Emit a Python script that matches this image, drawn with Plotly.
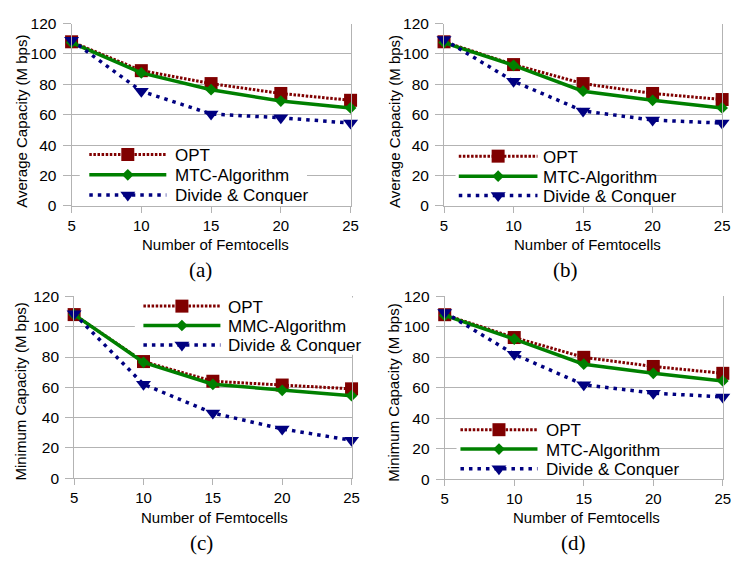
import plotly.graph_objects as go

W, H = 738, 567

# ---- data ----
femtocells = [5, 10, 15, 20, 25]
y_ticks = [0, 20, 40, 60, 80, 100, 120]

# (a) average capacity
a_opt = [108, 89, 80.5, 74, 69.5]
a_mtc = [107.5, 87.5, 76.5, 69, 64.5]
a_dc = [109, 75.5, 60.5, 58, 54.5]

# (b) average capacity
b_opt = [108, 93, 80.5, 74, 70]
b_mtc = [107.5, 92.5, 75.5, 69.5, 64.5]
b_dc = [109.5, 82, 62.5, 56.5, 54.5]

# (c) minimum capacity
c_opt = [108, 77, 64, 61.5, 59]
c_mmc = [108, 76.5, 62, 58, 54.5]
c_dc = [108.5, 62, 43, 32.5, 25]

# (d) minimum capacity
d_opt = [108, 93, 80, 74, 69.5]
d_mtc = [107.5, 92, 75.5, 69.5, 64.5]
d_dc = [109.5, 82, 62, 56.5, 54]

x_title = "Number of Femtocells"
avg_title = "Average Capacity (M bps)"
min_title = "Minimum Capacity (M bps)"

# ---- styles ----
SANS = "Liberation Sans, Arial, sans-serif"
SERIF = "Liberation Serif, Times New Roman, serif"
GRID = "#b3b3b3"
STYLES = [
    dict(color="#800000", dash="2.5px,1.6px", width=3, symbol="square", size=13),
    dict(color="#008000", dash="solid", width=3.5, symbol="diamond", size=9),
    dict(color="#000080", dash="3.5px,5px", width=3.5, symbol="triangle-down", size=13),
]


def px(x):
    return x / W


def py(y):
    return 1 - y / H


panels = [
    dict(ax="", box=(68.7, 15, 352.3, 203),
         series=[("OPT", a_opt), ("MTC-Algorithm", a_mtc), ("Divide & Conquer", a_dc)],
         ytitle=avg_title, ytitle_pos=(17.5, 116), xtitle_pos=(215, 242.5),
         caption="(a)", caption_pos=(200, 269.5),
         leg_box=(77, 142.5, 308, 201.5), leg_line=(86.7, 165), leg_text=171.7,
         leg_rows=(150, 171, 191.7)),
    dict(ax="2", box=(447.3, 15, 730, 203),
         series=[("OPT", b_opt), ("MTC-Algorithm", b_mtc), ("Divide & Conquer", b_dc)],
         ytitle=avg_title, ytitle_pos=(396.5, 116.5), xtitle_pos=(593, 242.5),
         caption="(b)", caption_pos=(570.7, 269.5),
         leg_box=(459, 143, 660, 201.5), leg_line=(462.3, 542.3), leg_text=545.7,
         leg_rows=(151.7, 172.3, 192.3)),
    dict(ax="3", box=(71.3, 296.3, 353.3, 483.7),
         series=[("OPT", c_opt), ("MMC-Algorithm", c_mmc), ("Divide & Conquer", c_dc)],
         ytitle=min_title, ytitle_pos=(17, 394.7), xtitle_pos=(214, 524.5),
         caption="(c)", caption_pos=(200.5, 550.5),
         leg_box=(133, 297.5, 366, 356.5), leg_line=(141.7, 220), leg_text=226,
         leg_rows=(306.3, 326.3, 346.3)),
    dict(ax="4", box=(448, 296.3, 730.7, 484.7),
         series=[("OPT", d_opt), ("MTC-Algorithm", d_mtc), ("Divide & Conquer", d_dc)],
         ytitle=min_title, ytitle_pos=(396.5, 395.5), xtitle_pos=(592, 524.5),
         caption="(d)", caption_pos=(579, 550.5),
         leg_box=(460, 425, 663, 483), leg_line=(464, 542.3), leg_text=549,
         leg_rows=(433.7, 453.7, 474)),
]

fig = go.Figure()
layout = dict(
    width=W, height=H, autosize=False,
    margin=dict(l=0, r=0, t=0, b=0),
    paper_bgcolor="white", plot_bgcolor="rgba(0,0,0,0)",
    showlegend=False,
    font=dict(family=SANS, size=15, color="#000000"),
    annotations=[],
)

for p in panels:
    xa, ya = "x" + p["ax"], "y" + p["ax"]
    x0, y0, x1, y1 = p["box"]
    layout["xaxis" + p["ax"]] = dict(
        domain=[px(x0), px(x1)], anchor=ya, range=[5, 25],
        tickmode="array", tickvals=femtocells,
        ticks="outside", ticklen=6, tickwidth=1, tickcolor=GRID,
        showline=True, linecolor=GRID, linewidth=1,
        showgrid=False, zeroline=False, fixedrange=True,
        tickfont=dict(family=SANS, size=15, color="#000000"),
    )
    layout["yaxis" + p["ax"]] = dict(
        domain=[py(y1), py(y0)], anchor=xa, range=[0, 120],
        tickmode="array", tickvals=y_ticks,
        ticks="outside", ticklen=8, tickwidth=1, tickcolor=GRID,
        ticklabelstandoff=3,
        showline=True, mirror=True, linecolor=GRID, linewidth=1,
        showgrid=True, gridcolor=GRID, gridwidth=1, zeroline=False,
        fixedrange=True,
        tickfont=dict(family=SANS, size=15.5, color="#000000"),
    )
    for (name, vals), st in zip(p["series"], STYLES):
        fig.add_trace(go.Scatter(
            x=femtocells, y=vals, name=name, mode="lines+markers",
            xaxis=xa, yaxis=ya, cliponaxis=False,
            line=dict(color=st["color"], width=st["width"], dash=st["dash"]),
            marker=dict(symbol=st["symbol"], size=st["size"], color=st["color"],
                        opacity=1, line=dict(width=0)),
        ))

    ann = layout["annotations"]
    tx, ty = p["xtitle_pos"]
    ann.append(dict(text=x_title, x=px(tx), y=py(ty), xref="paper", yref="paper",
                    xanchor="center", yanchor="middle", showarrow=False, borderpad=0,
                    font=dict(family=SANS, size=15, color="#000000")))
    tx, ty = p["ytitle_pos"]
    ann.append(dict(text=p["ytitle"], x=px(tx), y=py(ty), xref="paper", yref="paper",
                    xanchor="center", yanchor="middle", textangle=-90, showarrow=False,
                    font=dict(family=SANS, size=15, color="#000000")))
    tx, ty = p["caption_pos"]
    ann.append(dict(text=p["caption"], x=px(tx), y=py(ty), xref="paper", yref="paper",
                    xanchor="center", yanchor="middle", showarrow=False,
                    font=dict(family=SERIF, size=21, color="#000000")))

# ---- in-plot legends, drawn on a full-figure overlay in pixel units ----
layout["xaxis5"] = dict(domain=[0, 1], range=[0, W], visible=False, fixedrange=True,
                        anchor="y5")
layout["yaxis5"] = dict(domain=[0, 1], range=[H, 0], visible=False, fixedrange=True,
                        anchor="x5")

for p in panels:
    bx0, by0, bx1, by1 = p["leg_box"]
    fig.add_trace(go.Scatter(
        x=[bx0, bx1, bx1, bx0, bx0], y=[by0, by0, by1, by1, by0],
        xaxis="x5", yaxis="y5", mode="lines", fill="toself",
        fillcolor="white", line=dict(width=0, color="white"), hoverinfo="skip",
    ))
    lx0, lx1 = p["leg_line"]
    lxm = (lx0 + lx1) / 2
    for (name, _), st, ry in zip(p["series"], STYLES, p["leg_rows"]):
        # dashed sample line
        fig.add_trace(go.Scatter(
            x=[lx0, lx1], y=[ry, ry], xaxis="x5", yaxis="y5",
            mode="lines", hoverinfo="skip",
            line=dict(color=st["color"], width=st["width"], dash=st["dash"]),
        ))
        # centred marker sample
        fig.add_trace(go.Scatter(
            x=[lxm], y=[ry], xaxis="x5", yaxis="y5",
            mode="markers", hoverinfo="skip",
            marker=dict(symbol=st["symbol"], size=st["size"], color=st["color"],
                        opacity=1, line=dict(width=0)),
        ))
        layout["annotations"].append(dict(
            text=name, x=px(p["leg_text"]), y=py(ry + 1), xref="paper", yref="paper",
            xanchor="left", yanchor="middle", showarrow=False,
            font=dict(family=SANS, size=17, color="#000000")))

fig.update_layout(**layout)
fig.write_html("out.html")
